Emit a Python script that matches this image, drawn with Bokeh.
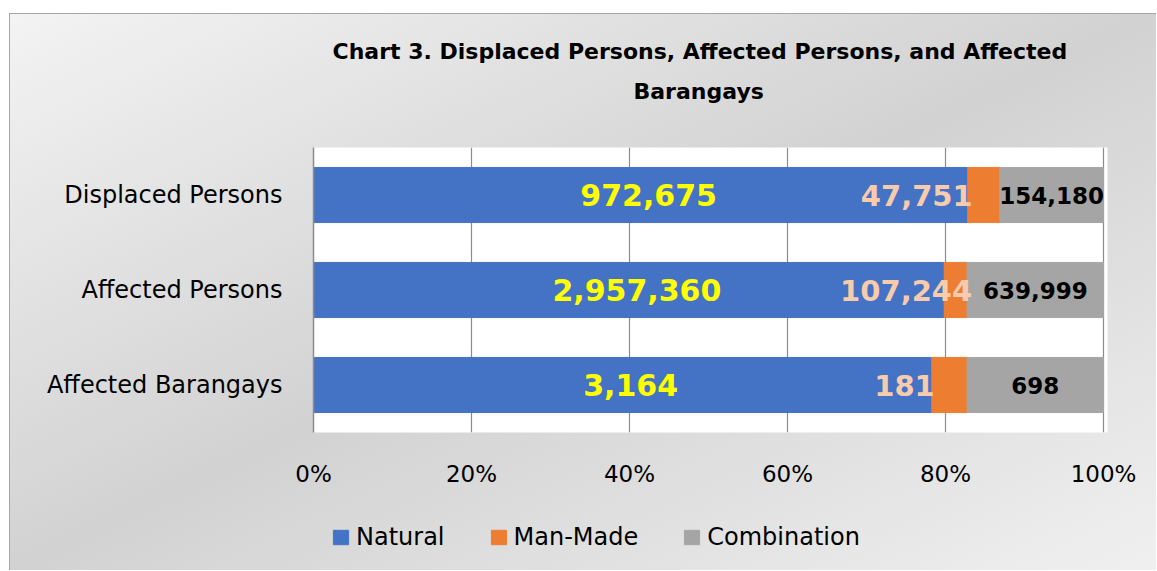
from bokeh.plotting import figure
from bokeh.layouts import column
from bokeh.models import (ColumnDataSource, FactorRange, FixedTicker, NumeralTickFormatter,
                          Legend, LegendItem, Range1d, Title)
from bokeh.core.properties import value
from bokeh.embed import file_html
from bokeh.resources import INLINE

# ---- data ----
categories = ["Displaced Persons", "Affected Persons", "Affected Barangays"]
natural = [972675, 2957360, 3164]
man_made = [47751, 107244, 181]
combination = [154180, 639999, 698]
series_names = ["Natural", "Man-Made", "Combination"]
x_ticks = [0, 0.2, 0.4, 0.6, 0.8, 1.0]
title_lines = ["Chart 3. Displaced Persons, Affected Persons, and Affected", "Barangays"]

# ---- styles ----
colors = ["#4472C4", "#ED7D31", "#A5A5A5"]
label_colors = ["#FFFF00", "#F8CBAD", "#000000"]
FONT = "DejaVu Sans"
mm_label_offsets = [5, 28, 3]
title_offsets = [19, 320]
W = 1156
H_TITLE, H_MAIN, H_LEG = 147, 358, 65

totals = [n + m + c for n, m, c in zip(natural, man_made, combination)]
nat_s = [n / t for n, t in zip(natural, totals)]
mm_s = [m / t for m, t in zip(man_made, totals)]
cum1 = nat_s
cum2 = [a + b for a, b in zip(nat_s, mm_s)]

src = ColumnDataSource(dict(
    cat=categories,
    zero=[0] * len(categories),
    cum1=cum1,
    cum2=cum2,
    one=[1.0] * len(categories),
    nat_mid=[c / 2 for c in cum1],
    comb_mid=[(c + 1) / 2 for c in cum2],
    nat_txt=[f"{v:,}" for v in natural],
    mm_txt=[f"{v:,}" for v in man_made],
    comb_txt=[f"{v:,}" for v in combination],
    mm_off=mm_label_offsets,
))

bg = ("linear-gradient(#a6a6a6,#a6a6a6) 9px 13px / 1px 100% no-repeat, "
      "linear-gradient(#a6a6a6,#a6a6a6) 9px 13px / 100% 1px no-repeat, "
      "linear-gradient(to bottom right, #f3f3f3 0%, #d2d2d2 50%, #f0f0f0 100%) 10px 14px / "
      "calc(100% - 10px) calc(100% - 14px) no-repeat, white")


def plain_fig(h, top=0):
    f = figure(width=W, height=h, x_range=Range1d(0, 1), y_range=Range1d(0, 1),
               output_backend="svg", toolbar_location=None,
               x_axis_location=None, y_axis_location=None,
               min_border_left=313, min_border_right=W - 313 - 794,
               min_border_top=top, min_border_bottom=0)
    f.grid.visible = False
    f.background_fill_color = None
    f.border_fill_color = None
    f.outline_line_color = None
    return f


# ---- title strip (two title lines; nearest line added first) ----
pt = plain_fig(H_TITLE, top=110)
pt.add_layout(Title(text=title_lines[1], align="left", offset=title_offsets[1], standoff=13,
                    text_font=FONT, text_font_size="22px", text_font_style="bold",
                    text_color="black"), "above")
pt.add_layout(Title(text=title_lines[0], align="left", offset=title_offsets[0], standoff=13,
                    text_font=FONT, text_font_size="22px", text_font_style="bold",
                    text_color="black"), "above")

# ---- main chart ----
p = figure(width=W, height=H_MAIN,
           y_range=FactorRange(factors=list(reversed(categories))),
           x_range=(0, 1.005),
           output_backend="svg", toolbar_location=None,
           min_border_left=313, min_border_right=W - 313 - 794,
           min_border_top=0, min_border_bottom=H_MAIN - 285)
p.border_fill_color = None
p.background_fill_color = "white"
p.outline_line_color = None

p.hbar(y="cat", left="zero", right="cum1", height=0.58, color=colors[0], source=src)
p.hbar(y="cat", left="cum1", right="cum2", height=0.58, color=colors[1], source=src)
p.hbar(y="cat", left="cum2", right="one", height=0.58, color=colors[2], source=src)

p.text(x="nat_mid", y="cat", text="nat_txt", source=src, text_align="center", x_offset=8,
       text_baseline="middle", text_font=value(FONT), text_font_size="30px",
       text_font_style="bold", text_color=label_colors[0])
p.text(x="cum1", y="cat", text="mm_txt", source=src, text_align="right", x_offset="mm_off",
       text_baseline="middle", text_font=value(FONT), text_font_size="29px",
       text_font_style="bold", text_color=label_colors[1])
p.text(x="comb_mid", y="cat", text="comb_txt", source=src, text_align="center",
       text_baseline="middle", text_font=value(FONT), text_font_size="23px",
       text_font_style="bold", text_color=label_colors[2])

p.xaxis.ticker = FixedTicker(ticks=x_ticks)
p.xaxis.formatter = NumeralTickFormatter(format="0%")
p.xaxis.axis_line_color = None
p.xaxis.major_tick_line_color = None
p.xaxis.minor_tick_line_color = None
p.xaxis.major_tick_out = 0
p.xaxis.minor_tick_out = 0
p.xaxis.major_label_standoff = 28
p.xaxis.major_label_text_font = FONT
p.xaxis.major_label_text_font_size = "23px"
p.xaxis.major_label_text_color = "black"

p.yaxis.axis_line_color = "#8c8c8c"
p.yaxis.axis_line_width = 1.5
p.yaxis.major_tick_line_color = None
p.yaxis.minor_tick_line_color = None
p.yaxis.major_tick_out = 0
p.yaxis.minor_tick_out = 0
p.yaxis.major_label_standoff = 31
p.yaxis.major_label_text_font = FONT
p.yaxis.major_label_text_font_size = "24px"
p.yaxis.major_label_text_color = "black"

p.xgrid.ticker = FixedTicker(ticks=x_ticks)
p.xgrid.grid_line_color = "#8c8c8c"
p.xgrid.grid_line_width = 1.2
p.ygrid.grid_line_color = None
p.xgrid.level = "underlay"

# ---- legend strip (proxy renderers lie outside its visible range) ----
pl = plain_fig(H_LEG)
proxy = ColumnDataSource(dict(y=[-10], l=[0], r=[1]))
leg_r = [pl.hbar(y="y", left="l", right="r", height=1, color=c, source=proxy) for c in colors]
legend = Legend(items=[LegendItem(label=n, renderers=[r]) for n, r in zip(series_names, leg_r)],
                orientation="horizontal", location=(18, 19),
                glyph_width=19, glyph_height=18, label_standoff=6, spacing=44,
                label_text_font=FONT, label_text_font_size="24px", label_text_color="black",
                border_line_color=None, background_fill_alpha=0, padding=0, margin=0)
pl.add_layout(legend)

layout = column(pt, p, pl, spacing=0, styles={"background": bg})
open("out.html", "w").write(file_html(layout, INLINE))
